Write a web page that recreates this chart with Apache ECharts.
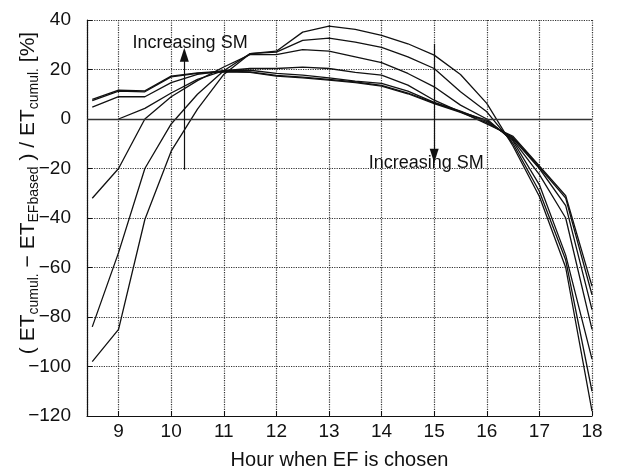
<!DOCTYPE html>
<html>
<head>
<meta charset="utf-8">
<script src="https://cdn.jsdelivr.net/npm/echarts@6/dist/echarts.min.js"></script>
<style>
  html, body { margin: 0; padding: 0; background: #fff; }
  #chart { width: 617px; height: 471px; }
</style>
</head>
<body>
<div id="chart"></div>
<script>
// Hour when EF is chosen
var hours = [8.5, 9, 9.5, 10, 10.5, 11, 11.5, 12, 12.5, 13, 13.5, 14, 14.5, 15, 15.5, 16, 16.5, 17, 17.5, 18];

// One curve per soil-moisture (SM) level; (ETcumul - ETEFbased)/ETcumul [%]
var sm1 = [7.9, 11.7, 11.4, 17.3, 18.6, 19.3, 19.0, 17.6, 16.9, 16.0, 15.0, 13.6, 10.5, 6.5, 3.0, -2.0, -7.0, -19.0, -31.0, -67.5];
var sm2 = [7.4, 11.3, 11.0, 17.0, 18.4, 19.1, 18.8, 17.3, 16.6, 15.7, 14.7, 13.3, 10.2, 6.2, 2.7, -1.5, -7.5, -19.5, -32.0, -71.0];
var sm3 = [4.8, 9.0, 9.0, 14.7, 18.0, 19.5, 19.7, 18.4, 17.7, 16.6, 15.3, 14.4, 11.3, 6.7, 3.2, -1.0, -8.0, -20.0, -35.0, -77.0];
var sm4 = [null, 0.0, 4.3, 10.5, 16.0, 19.5, 20.4, 20.4, 21.0, 20.4, 18.8, 17.7, 13.7, 7.6, 2.9, -0.5, -8.5, -22.5, -40.0, -85.0];
var sm5 = [-32.0, -20.0, 0.0, 9.0, 15.5, 21.0, 26.0, 26.0, 28.0, 27.4, 25.1, 22.8, 18.4, 13.0, 5.6, 0.0, -9.0, -26.6, -55.0, -97.0];
var sm6 = [-84.0, -54.0, -20.0, -2.0, 10.0, 19.5, 26.4, 27.0, 31.8, 32.7, 31.1, 28.9, 25.1, 20.4, 11.0, 2.9, -10.0, -29.3, -57.0, -110.0];
var sm7 = [-98.0, -85.0, -40.6, -13.0, 4.0, 18.0, 26.4, 27.4, 35.1, 37.5, 36.2, 33.8, 30.4, 25.8, 18.0, 6.3, -11.0, -31.3, -60.0, -118.0];

var curves = [sm1, sm2, sm3, sm4, sm5, sm6, sm7];

// Axis ranges / ticks
var xMin = 8.4, xMax = 18;
var yMin = -120, yMax = 40, yStep = 20;

// Annotation arrows [x, yFrom, yTo] and their texts [x, y, text]
var arrowUp = [10.25, -20.5, 26];
var arrowDown = [15.0, 30.4, -14.8];
var notes = [[10.36, 30.7, 'Increasing SM'], [14.85, -17.8, 'Increasing SM']];

var FONT = '"Liberation Sans", Arial, Helvetica, sans-serif';
var chart = echarts.init(document.getElementById('chart'));

function pairs(vals) {
  var out = [];
  for (var i = 0; i < hours.length; i++) {
    if (vals[i] !== null) out.push([hours[i], vals[i]]);
  }
  return out;
}

var series = curves.map(function (c, idx) {
  var s = {
    type: 'line',
    data: pairs(c),
    showSymbol: false,
    symbol: 'none',
    silent: true,
    lineStyle: { color: '#111', width: 1.3 },
    z: 3
  };
  if (idx === 0) {
    s.markLine = {
      silent: true,
      symbol: ['none', 'none'],
      label: { show: false },
      lineStyle: { color: '#333', type: 'solid', width: 1.4 },
      data: [{ yAxis: 0 }]
    };
  }
  if (idx === 1) {
    s.markLine = {
      silent: true,
      symbol: ['none', 'triangle'],
      symbolSize: [9, 14],
      label: { show: false },
      lineStyle: { color: '#111', type: 'solid', width: 1.2 },
      data: [
        [{ coord: [arrowUp[0], arrowUp[1]] }, { coord: [arrowUp[0], arrowUp[2]] }],
        [{ coord: [arrowDown[0], arrowDown[1]] }, { coord: [arrowDown[0], arrowDown[2]] }]
      ]
    };
  }
  return s;
});

series.push({
  type: 'scatter',
  silent: true,
  symbolSize: 0,
  itemStyle: { opacity: 1 },
  data: notes.map(function (n) { return { value: [n[0], n[1]], name: n[2] }; }),
  label: {
    show: true,
    position: 'inside',
    formatter: function (p) { return p.name; },
    color: '#111',
    opacity: 1,
    textBorderWidth: 0,
    fontFamily: FONT,
    fontSize: 18
  },
  z: 5
});

var gridLine = { show: true, lineStyle: { color: '#333', type: 'dotted', width: 1.2 } };

var option = {
  animation: false,
  backgroundColor: '#fff',
  grid: { left: 87, right: 25, top: 20, bottom: 55, containLabel: false, outerBoundsMode: 'none' },
  xAxis: {
    type: 'value',
    min: xMin,
    max: xMax,
    splitNumber: 10,
    axisLine: { show: true, onZero: false, lineStyle: { color: '#111', width: 1.2 } },
    axisTick: { show: true, inside: true, length: 5, lineStyle: { color: '#111' } },
    axisLabel: { showMinLabel: false, color: '#111', fontFamily: FONT, fontSize: 19, margin: 6 },
    splitLine: gridLine,
    name: 'Hour when EF is chosen',
    nameLocation: 'middle',
    nameGap: 34,
    nameTextStyle: { color: '#111', fontFamily: FONT, fontSize: 20 }
  },
  yAxis: {
    type: 'value',
    min: yMin,
    max: yMax,
    interval: yStep,
    axisLine: { show: true, onZero: false, lineStyle: { color: '#111', width: 1.2 } },
    axisTick: { show: true, inside: true, length: 5, lineStyle: { color: '#111' } },
    axisLabel: {
      color: '#111', fontFamily: FONT, fontSize: 19, margin: 16,
      formatter: function (v) { return String(v).replace('-', '\u2212'); }
    },
    splitLine: gridLine
  },
  graphic: [{
    type: 'text',
    x: 29,
    y: 193,
    rotation: Math.PI / 2,
    style: {
      text: '{m|( ET}{s|cumul.}{m| \u2212 ET}{s|EFbased}{m| ) / ET}{s|cumul.}{m| [%]}',
      align: 'center',
      verticalAlign: 'middle',
      fill: '#111',
      rich: {
        m: { fontFamily: FONT, fontSize: 21, lineHeight: 23, verticalAlign: 'top', fill: '#111' },
        s: { fontFamily: FONT, fontSize: 14, lineHeight: 15, padding: [10, 0, 0, 0], verticalAlign: 'top', fill: '#111' }
      }
    }
  }],
  series: series
};

chart.setOption(option);
</script>
</body>
</html>
